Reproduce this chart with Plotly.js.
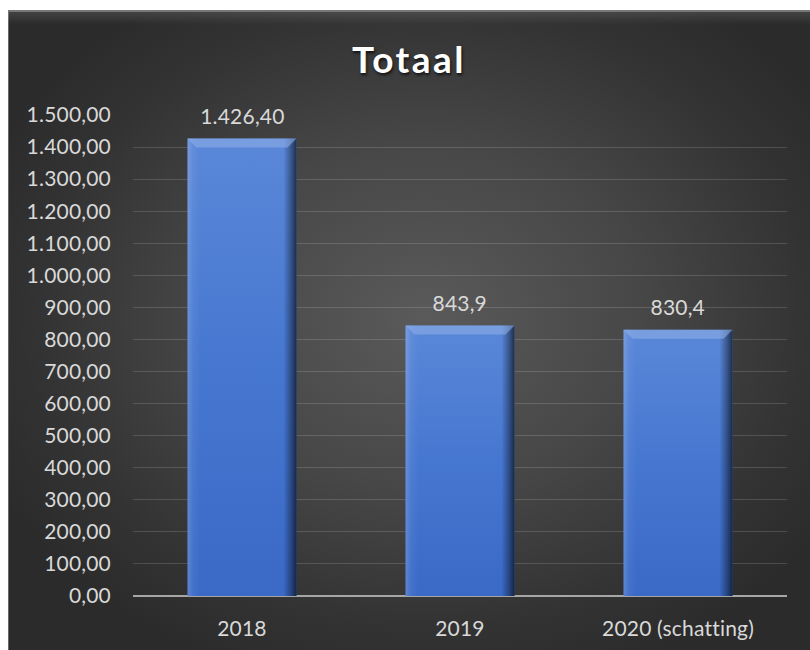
<!DOCTYPE html>
<html>
<head>
<meta charset="utf-8">
<script src="https://cdn.plot.ly/plotly-3.0.1.min.js"></script>
<style>
html,body{margin:0;padding:0;background:#ffffff;}
#wrap{position:absolute;left:8px;top:10px;width:802px;height:640px;
  background:radial-gradient(ellipse 60% 60% at 52% 48%, #5a5a5a 0%, #474747 45%, #333333 80%, #2b2b2b 100%);
  box-shadow: inset 0 2px 0 #777, inset 0 14px 10px -6px rgba(255,255,255,0.12), inset 1px 0 0 #666;
}
#chart{position:absolute;left:0;top:0;width:802px;height:640px;}
#chart .gtitle{letter-spacing:2.5px;text-shadow:1px 2px 3px rgba(0,0,0,0.7);}
#chart .xtick text, #chart .ytick text, #chart .annotation-text{letter-spacing:0.2px;}
</style>
</head>
<body>
<div id="wrap"><div id="chart"></div></div>
<script>
const categories = ['2018', '2019', '2020 (schatting)'];
const values = [1426.4, 843.9, 830.4];
const valueLabels = ['1.426,40', '843,9', '830,4'];
const chartTitle = 'Totaal';

const FONT = 'Lato, "Open Sans", sans-serif';

const trace = {
  type: 'bar',
  x: categories,
  y: values,
  marker: {color: '#4a7bd4', line: {color: '#1e3a72', width: 1}},
  width: 0.5,
  hoverinfo: 'none'
};

// x given as category index (a category named '2018' would otherwise be read as index 2018)
const annotations = categories.map(function(c, i){
  return {
    x: i, y: values[i], xref: 'x', yref: 'y',
    text: valueLabels[i], showarrow: false,
    yanchor: 'middle', yshift: 23,
    font: {family: FONT, size: 21, color: '#d9d9d9'}
  };
});

const layout = {
  width: 802,
  height: 640,
  paper_bgcolor: 'rgba(0,0,0,0)',
  plot_bgcolor: 'rgba(0,0,0,0)',
  separators: ',.',
  margin: {l: 125, r: 23, t: 105, b: 54},
  showlegend: false,
  annotations: annotations,
  title: {
    text: '<b>' + chartTitle + '</b>',
    font: {family: FONT, size: 37, color: '#ffffff'},
    x: 0.5, xanchor: 'center', y: 0.922, yanchor: 'middle'
  },
  xaxis: {
    type: 'category',
    range: [-0.5, categories.length - 0.5],
    showgrid: false,
    showline: false,
    zeroline: false,
    ticks: '',
    tickfont: {family: FONT, size: 21, color: '#d9d9d9'},
    ticklabelstandoff: 18
  },
  yaxis: {
    range: [0, 1500],
    dtick: 100,
    tick0: 0,
    tickformat: ',.2f',
    showgrid: true,
    gridcolor: 'rgba(255,255,255,0.15)',
    gridwidth: 1,
    zeroline: true,
    zerolinecolor: '#a6a6a6',
    zerolinewidth: 2,
    showline: false,
    ticks: '',
    ticklabelstandoff: 21,
    tickfont: {family: FONT, size: 21, color: '#d9d9d9'}
  }
};

Plotly.newPlot('chart', [trace], layout, {displayModeBar: false, staticPlot: true}).then(function(gd){
  const svg = gd.querySelector('svg.main-svg');
  const ns = 'http://www.w3.org/2000/svg';
  let defs = svg.querySelector('defs');
  if (!defs) { defs = document.createElementNS(ns, 'defs'); svg.insertBefore(defs, svg.firstChild); }
  function grad(id, x2, y2, stops){
    const g = document.createElementNS(ns, 'linearGradient');
    g.setAttribute('id', id);
    g.setAttribute('x1', '0'); g.setAttribute('y1', '0'); g.setAttribute('x2', x2); g.setAttribute('y2', y2);
    stops.forEach(function(s){
      const st = document.createElementNS(ns, 'stop');
      st.setAttribute('offset', s[0]); st.setAttribute('stop-color', s[1]);
      if (s[2] !== undefined) st.setAttribute('stop-opacity', s[2]);
      g.appendChild(st);
    });
    defs.appendChild(g);
  }
  grad('barV', '0', '1', [['0', '#5a87d8'], ['0.5', '#4677d0'], ['1', '#3a69c6']]);
  grad('barH', '1', '0', [['0', '#ffffff', 0.18], ['0.05', '#ffffff', 0.05], ['0.12', '#ffffff', 0], ['0.88', '#000000', 0], ['0.95', '#000000', 0.35], ['1', '#000000', 0.65]]);
  gd.querySelectorAll('.bars .point path').forEach(function(p){
    p.style.fill = 'url(#barV)';
    p.style.stroke = 'none';
    const c = p.cloneNode(true);
    c.style.fill = 'url(#barH)';
    c.style.stroke = 'none';
    p.parentNode.appendChild(c);
    const bb = p.getBBox();
    const top = document.createElementNS(ns, 'path');
    const bev = 9;
    top.setAttribute('d', 'M' + bb.x + ',' + bb.y + 'L' + (bb.x + bb.width) + ',' + bb.y + 'L' + (bb.x + bb.width - bev) + ',' + (bb.y + bev) + 'L' + (bb.x + bev) + ',' + (bb.y + bev) + 'Z');
    top.style.fill = '#8eaee6';
    top.style.opacity = '0.6';
    p.parentNode.appendChild(top);
  });
});
</script>
</body>
</html>
